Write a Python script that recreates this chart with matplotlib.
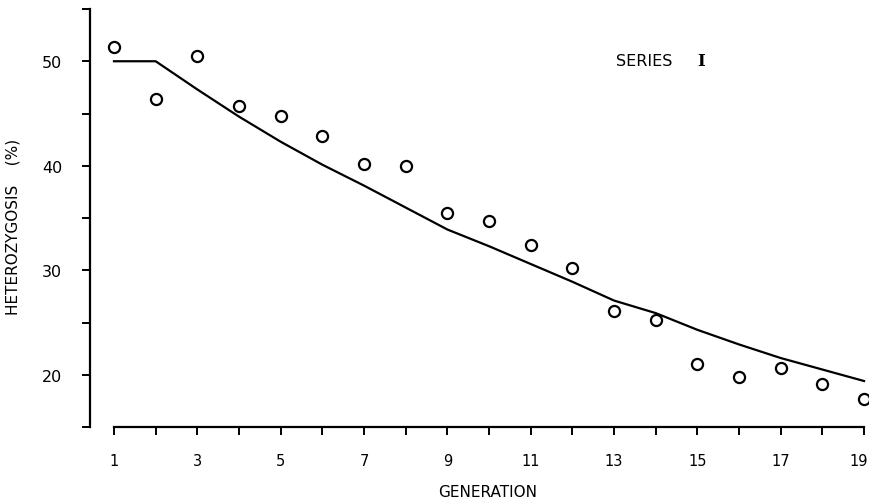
import matplotlib
matplotlib.use("Agg")
import matplotlib.pyplot as plt
import matplotlib.transforms as mtransforms
from matplotlib.ticker import MultipleLocator, FixedLocator, NullFormatter

# observed heterozygosis per generation (circles)
generation = list(range(1, 20))
observed = [51.4, 46.4, 50.5, 45.7, 44.8, 42.8, 40.2, 40.0, 35.5, 34.7,
            32.4, 30.2, 26.1, 25.2, 21.0, 19.8, 20.6, 19.1, 17.7]

# expected curve (line)
expected = [50.0, 50.0, 47.3, 44.7, 42.3, 40.1, 38.1, 36.0, 33.9, 32.3,
            30.6, 28.9, 27.1, 25.9, 24.3, 22.9, 21.6, 20.5, 19.4]

x_labels = [1, 3, 5, 7, 9, 11, 13, 15, 17, 19]
y_labels = [20, 30, 40, 50]

plt.rcParams['font.family'] = ['DejaVu Sans']

fig = plt.figure(figsize=(8.71, 5.02), dpi=100)
ax = fig.add_axes([90/871, 74/502, 778/871, 418/502])

ax.plot(generation, expected, color='black', lw=1.6, solid_joinstyle='round')
ax.plot(generation, observed, ls='none', marker='o', ms=8, mfc='white',
        mec='black', mew=1.6)

ax.set_xlim(0.424, 19.095)
ax.set_ylim(15, 55)

for s in ['top', 'right']:
    ax.spines[s].set_visible(False)
ax.spines['left'].set_bounds(15, 55)
ax.spines['bottom'].set_bounds(1, 19)
ax.spines['left'].set_linewidth(1.6)
ax.spines['bottom'].set_linewidth(1.6)

ax.xaxis.set_major_locator(FixedLocator(x_labels))
ax.xaxis.set_minor_locator(MultipleLocator(1))
ax.yaxis.set_major_locator(FixedLocator(y_labels))
ax.yaxis.set_minor_locator(MultipleLocator(5))
ax.xaxis.set_minor_formatter(NullFormatter())
ax.yaxis.set_minor_formatter(NullFormatter())

ax.tick_params(which='both', direction='out', length=6, width=1.4, color='black')
ax.tick_params(axis='x', which='major', pad=13, labelsize=10.5)
ax.tick_params(axis='y', which='major', pad=14, labelsize=11.5)

# nudge the last label ("19") so it stays inside the picture
fig.canvas.draw()
last = ax.xaxis.get_major_ticks()[-1].label1
last.set_transform(last.get_transform() +
                   mtransforms.ScaledTranslation(-5/100, 0, fig.dpi_scale_trans))

ax.set_xlabel('GENERATION', fontsize=11)
ax.xaxis.set_label_coords(0.5116, -0.137)
ax.set_ylabel('HETEROZYGOSIS    (%)', fontsize=11)
ax.yaxis.set_label_coords(-0.089, 0.481)

ax.text(0.676, 0.876, 'SERIES', transform=ax.transAxes, fontsize=11.5,
        va='center', ha='left')
ax.text(0.781, 0.876, 'I', transform=ax.transAxes, fontsize=12,
        fontfamily='DejaVu Serif', fontweight='bold', va='center', ha='left')

fig.savefig('out.png', dpi=100)
